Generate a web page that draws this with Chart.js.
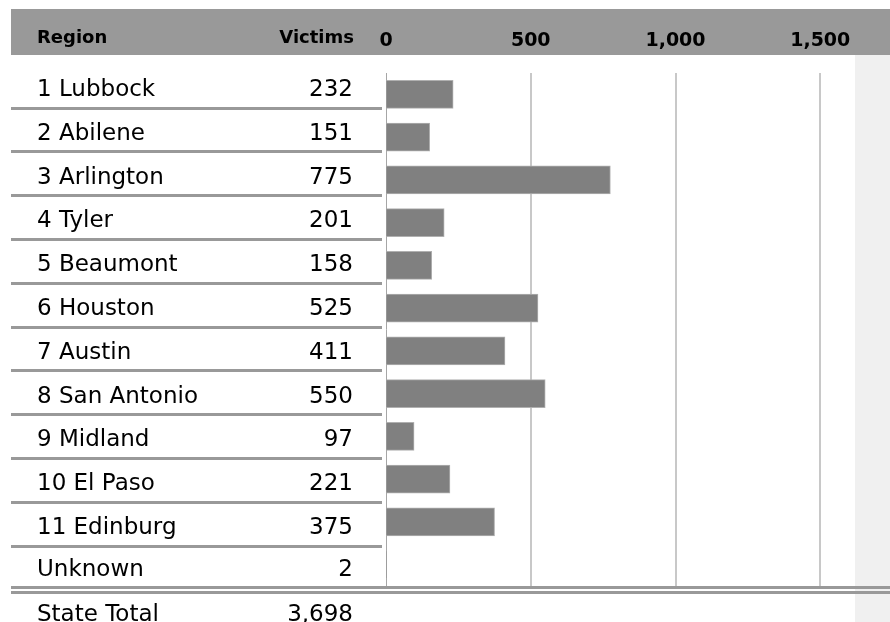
<!DOCTYPE html>
<html><head><meta charset="utf-8">
<script src="https://cdn.jsdelivr.net/npm/chart.js@4.4.1/dist/chart.umd.min.js"></script>
<style>html,body{margin:0;padding:0;background:#fff}canvas{display:block}</style>
</head><body>
<canvas id="c" width="890" height="622"></canvas>
<script>
const regions = ['1 Lubbock','2 Abilene','3 Arlington','4 Tyler','5 Beaumont','6 Houston','7 Austin','8 San Antonio','9 Midland','10 El Paso','11 Edinburg','Unknown'];
const victims = [232,151,775,201,158,525,411,550,97,221,375,2];
const axisTicks = [0,500,1000,1500];
const headers = ['Region','Victims'];
const totalLabel = 'State Total';
const totalValue = 3698;

const fmt = v => Number(v).toLocaleString('en-US');
const BODY_FONT = '23px "DejaVu Sans"';
const LINE = '#999999';

const tablePlugin = {
  id: 'table',
  beforeDraw(chart) {
    const { ctx, chartArea: ca } = chart;
    ctx.save();
    ctx.fillStyle = '#ffffff';
    ctx.fillRect(0, 0, chart.width, chart.height);
    ctx.fillStyle = '#f0f0f0';
    ctx.fillRect(ca.right, 55, chart.width - ca.right, chart.height - 55);
    ctx.fillStyle = '#999999';
    ctx.fillRect(11, 9, chart.width - 11, 46);
    ctx.fillStyle = '#000000';
    ctx.font = 'bold 18px "DejaVu Sans"';
    ctx.textBaseline = 'alphabetic';
    ctx.textAlign = 'left';
    ctx.fillText(headers[0], 37, 43);
    ctx.textAlign = 'right';
    ctx.fillText(headers[1], 354, 43);
    ctx.restore();
  },
  afterDraw(chart) {
    const { ctx, chartArea: ca } = chart;
    ctx.save();
    const step = 43.8;
    ctx.fillStyle = LINE;
    for (let k = 0; k < regions.length - 1; k++) {
      const y = Math.round(108 + step * k - 1.5);
      ctx.fillRect(11, y, 371, 3);
    }
    // double line below the last row
    ctx.fillRect(11, ca.bottom, chart.width - 11, 3);
    ctx.fillRect(11, ca.bottom + 5, chart.width - 11, 3);

    ctx.fillStyle = '#000000';
    ctx.font = BODY_FONT;
    ctx.textBaseline = 'alphabetic';
    const rows = regions.map((r, i) => [r, fmt(victims[i])]);
    rows.push([totalLabel, fmt(totalValue)]);
    rows.forEach((row, k) => {
      let y = 96 + step * k;
      if (k === regions.length - 1) y = 576;
      if (k === regions.length) y = 621;
      ctx.textAlign = 'left';
      ctx.fillText(row[0], 37, y);
      ctx.textAlign = 'right';
      ctx.fillText(row[1], 353, y);
    });
    ctx.restore();
  }
};

new Chart(document.getElementById('c'), {
  type: 'bar',
  data: {
    labels: regions,
    datasets: [{
      data: victims,
      backgroundColor: '#808080',
      borderColor: '#b0b0b0',
      borderWidth: 1,
      barThickness: 28
    }]
  },
  options: {
    indexAxis: 'y',
    responsive: false,
    devicePixelRatio: 1,
    animation: false,
    layout: { padding: { left: 386, right: 35, top: 0, bottom: 36 } },
    plugins: { legend: { display: false }, tooltip: { enabled: false } },
    scales: {
      x: {
        type: 'linear',
        position: 'top',
        min: 0,
        max: 1620,
        afterBuildTicks: s => { s.ticks = axisTicks.map(v => ({ value: v })); },
        afterFit: s => { s.height = 73; },
        ticks: {
          callback: v => fmt(v),
          font: { family: 'DejaVu Sans', size: 19, weight: 'bold' },
          color: '#000000',
          padding: 21,
          maxRotation: 0,
          autoSkip: false
        },
        grid: {
          drawTicks: false,
          color: c => (c.tick && c.tick.value === 0) ? '#a6a6a6' : '#c8c8c8',
          lineWidth: c => (c.tick && c.tick.value === 0) ? 1 : 2
        },
        border: { display: false }
      },
      y: { type: 'category', display: false }
    }
  },
  plugins: [tablePlugin]
});
</script>
</body></html>
